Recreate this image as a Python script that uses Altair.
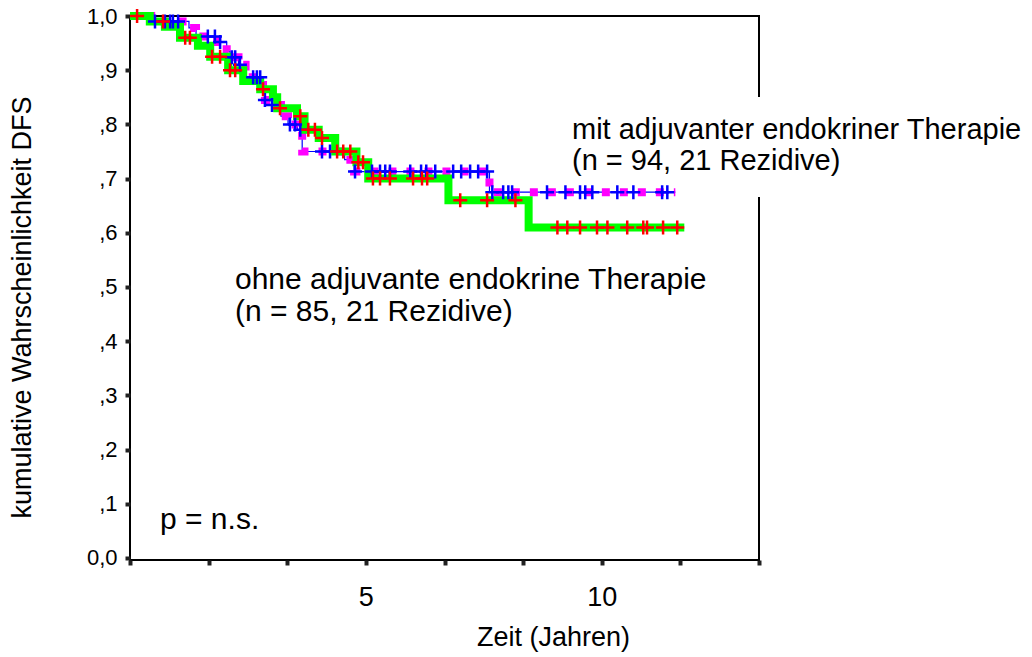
import altair as alt
import pandas as pd

# ---- group "ohne adjuvante endokrine Therapie" (green line, red censor marks)
ohne_t = [0, 0.42, 0.74, 1.06, 1.44, 1.70, 2.08, 2.40, 2.76, 3.03, 3.12, 3.54, 3.70, 4.00,
          4.35, 4.80, 5.05, 6.75, 8.45, 11.75]
ohne_s = [1.0, 0.99, 0.98, 0.96, 0.945, 0.925, 0.90, 0.88, 0.865, 0.85, 0.83, 0.815, 0.79, 0.775,
          0.75, 0.73, 0.70, 0.66, 0.61, 0.61]
ohne_censor_t = [0.15, 0.70, 1.17, 1.27, 1.74, 1.91, 2.12, 2.23, 2.82, 3.18, 3.61, 3.78, 3.92, 4.07,
                 4.39, 4.52, 4.67, 4.84, 4.94, 5.15, 5.30, 5.51, 6.00, 6.19, 6.30, 7.00, 7.57, 8.17,
                 9.06, 9.27, 9.54, 9.90, 10.12, 10.54, 10.88, 10.96, 11.30, 11.60]

# ---- group "mit adjuvanter endokriner Therapie" (magenta dashed line, blue censor marks)
mit_t = [0, 0.45, 1.25, 1.40, 1.85, 2.05, 2.12, 2.30, 2.45, 2.82, 2.86, 3.00, 3.20, 3.35, 3.55,
         3.65, 4.55, 4.75, 7.62, 11.56]
mit_s = [1.0, 0.99, 0.978, 0.962, 0.952, 0.935, 0.924, 0.91, 0.887, 0.865, 0.845, 0.836, 0.815,
         0.80, 0.79, 0.75, 0.735, 0.713, 0.675, 0.675]
mit_censor_t = [0.53, 0.74, 0.85, 0.91, 1.02, 1.65, 1.80, 1.91, 2.16, 2.23, 2.33, 2.61, 2.69, 2.76,
                2.86, 3.01, 3.39, 3.50, 3.61, 4.07, 4.24, 4.77, 5.13, 5.30, 5.41, 5.51, 5.94, 6.17,
                6.28, 6.47, 6.85, 7.02, 7.21, 7.38, 7.57, 7.68, 7.91, 8.02, 8.10, 8.84, 9.23, 9.54,
                9.65, 9.80, 10.33, 10.67, 11.28, 11.39]

x_tick_values = [0, 5 / 3, 10 / 3, 5, 20 / 3, 25 / 3, 10, 35 / 3, 40 / 3]
y_tick_values = [0.0, 0.1, 0.2, 0.3, 0.4, 0.5, 0.6, 0.7, 0.8, 0.9, 1.0]

x_title = "Zeit (Jahren)"
y_title = "kumulative Wahrscheinlichkeit DFS"
mit_label = ["mit adjuvanter endokriner Therapie", "(n = 94, 21 Rezidive)"]
ohne_label = ["ohne adjuvante endokrine Therapie", "(n = 85, 21 Rezidive)"]
p_label = "p = n.s."

FONT = "Liberation Sans"


def step_value(times, surv, t):
    v = surv[0]
    for ti, si in zip(times, surv):
        if ti <= t:
            v = si
    return v


ohne_curve = pd.DataFrame({"t": ohne_t, "s": ohne_s})
mit_curve = pd.DataFrame({"t": mit_t, "s": mit_s})
ohne_cens = pd.DataFrame({"t": ohne_censor_t,
                          "s": [step_value(ohne_t, ohne_s, t) for t in ohne_censor_t]})
mit_cens = pd.DataFrame({"t": mit_censor_t,
                         "s": [step_value(mit_t, mit_s, t) for t in mit_censor_t]})

xscale = alt.Scale(domain=[0, 40 / 3], nice=False, zero=False)
yscale = alt.Scale(domain=[-0.0037, 1.0], nice=False, zero=False)

x_enc = alt.X("t:Q", scale=xscale, axis=alt.Axis(
    values=x_tick_values,
    labelExpr="abs(datum.value-5)<0.01 ? '5' : (abs(datum.value-10)<0.01 ? '10' : '')",
    title=x_title, titleX=423, titleY=77, titleBaseline="middle", titleAlign="center",
    titleFontSize=27, titleFontWeight="normal", titleFont=FONT, titleColor="black",
    labelFontSize=27, labelFont=FONT, labelColor="black", labelPadding=19,
    domain=False, grid=False, tickSize=5, tickWidth=4, tickColor="#222222"))
y_enc = alt.Y("s:Q", scale=yscale, axis=alt.Axis(
    values=y_tick_values,
    labelExpr="datum.value > 0.99 ? '1,0' : (datum.value < 0.01 ? '0,0' : ',' + round(datum.value*10))",
    title=y_title, titleX=-108, titleY=291, titleAngle=270, titleBaseline="middle",
    titleAlign="center", titleFontSize=27, titleFontWeight="normal", titleFont=FONT,
    titleColor="black",
    labelFontSize=22, labelFont=FONT, labelColor="black", labelPadding=8,
    domain=False, grid=False, tickSize=5, tickWidth=4, tickColor="#222222"))

dummy = pd.DataFrame({"a": [0]})

cover = alt.Chart(dummy).mark_rect(color="white").encode(
    x=alt.value(570), x2=alt.value(902), y=alt.value(81), y2=alt.value(181))

mit_thin = alt.Chart(mit_curve).mark_line(
    interpolate="step-after", color="#0000ff", strokeWidth=1.2, clip=False
).encode(x=x_enc, y=y_enc)
mit_line = alt.Chart(mit_curve).mark_line(
    interpolate="step-after", color="#ff00ff", strokeWidth=8, strokeDash=[8, 10],
    strokeCap="butt", clip=False
).encode(x=x_enc, y=y_enc)
ohne_line = alt.Chart(ohne_curve).mark_line(
    interpolate="step-after", color="#00ff00", strokeWidth=8, clip=False
).encode(x=x_enc, y=y_enc)

PLUS = "M-1,0L1,0M0,-1L0,1"
mit_marks = alt.Chart(mit_cens).mark_point(
    shape=PLUS, size=196, filled=False, strokeWidth=2.5, color="#0000ff", opacity=1
).encode(x=x_enc, y=y_enc)
ohne_marks = alt.Chart(ohne_cens).mark_point(
    shape=PLUS, size=196, filled=False, strokeWidth=2.5, color="#ff0000", opacity=1
).encode(x=x_enc, y=y_enc)


def label(text, x, y, size, line_height=None):
    kw = dict(text=text, align="left", baseline="middle", fontSize=size, font=FONT,
              color="black")
    if line_height is not None:
        kw["lineHeight"] = line_height
    return alt.Chart(dummy).mark_text(**kw).encode(x=alt.value(x), y=alt.value(y))


texts = [
    label(mit_label, 442, 114, 29, 31),
    label(ohne_label, 105, 264, 30, 32),
    label(p_label, 30, 504, 30),
]

chart = alt.layer(
    cover, mit_thin, mit_line, ohne_line, mit_marks, ohne_marks, *texts
).properties(
    width=629, height=544,
    padding={"left": 130, "top": 16, "right": 273, "bottom": 97},
    autosize=alt.AutoSizeParams(type="none"),
    background="white",
).configure_view(stroke="black", strokeWidth=2)

chart.save("out.html", embed_options={"renderer": "svg", "actions": False})
